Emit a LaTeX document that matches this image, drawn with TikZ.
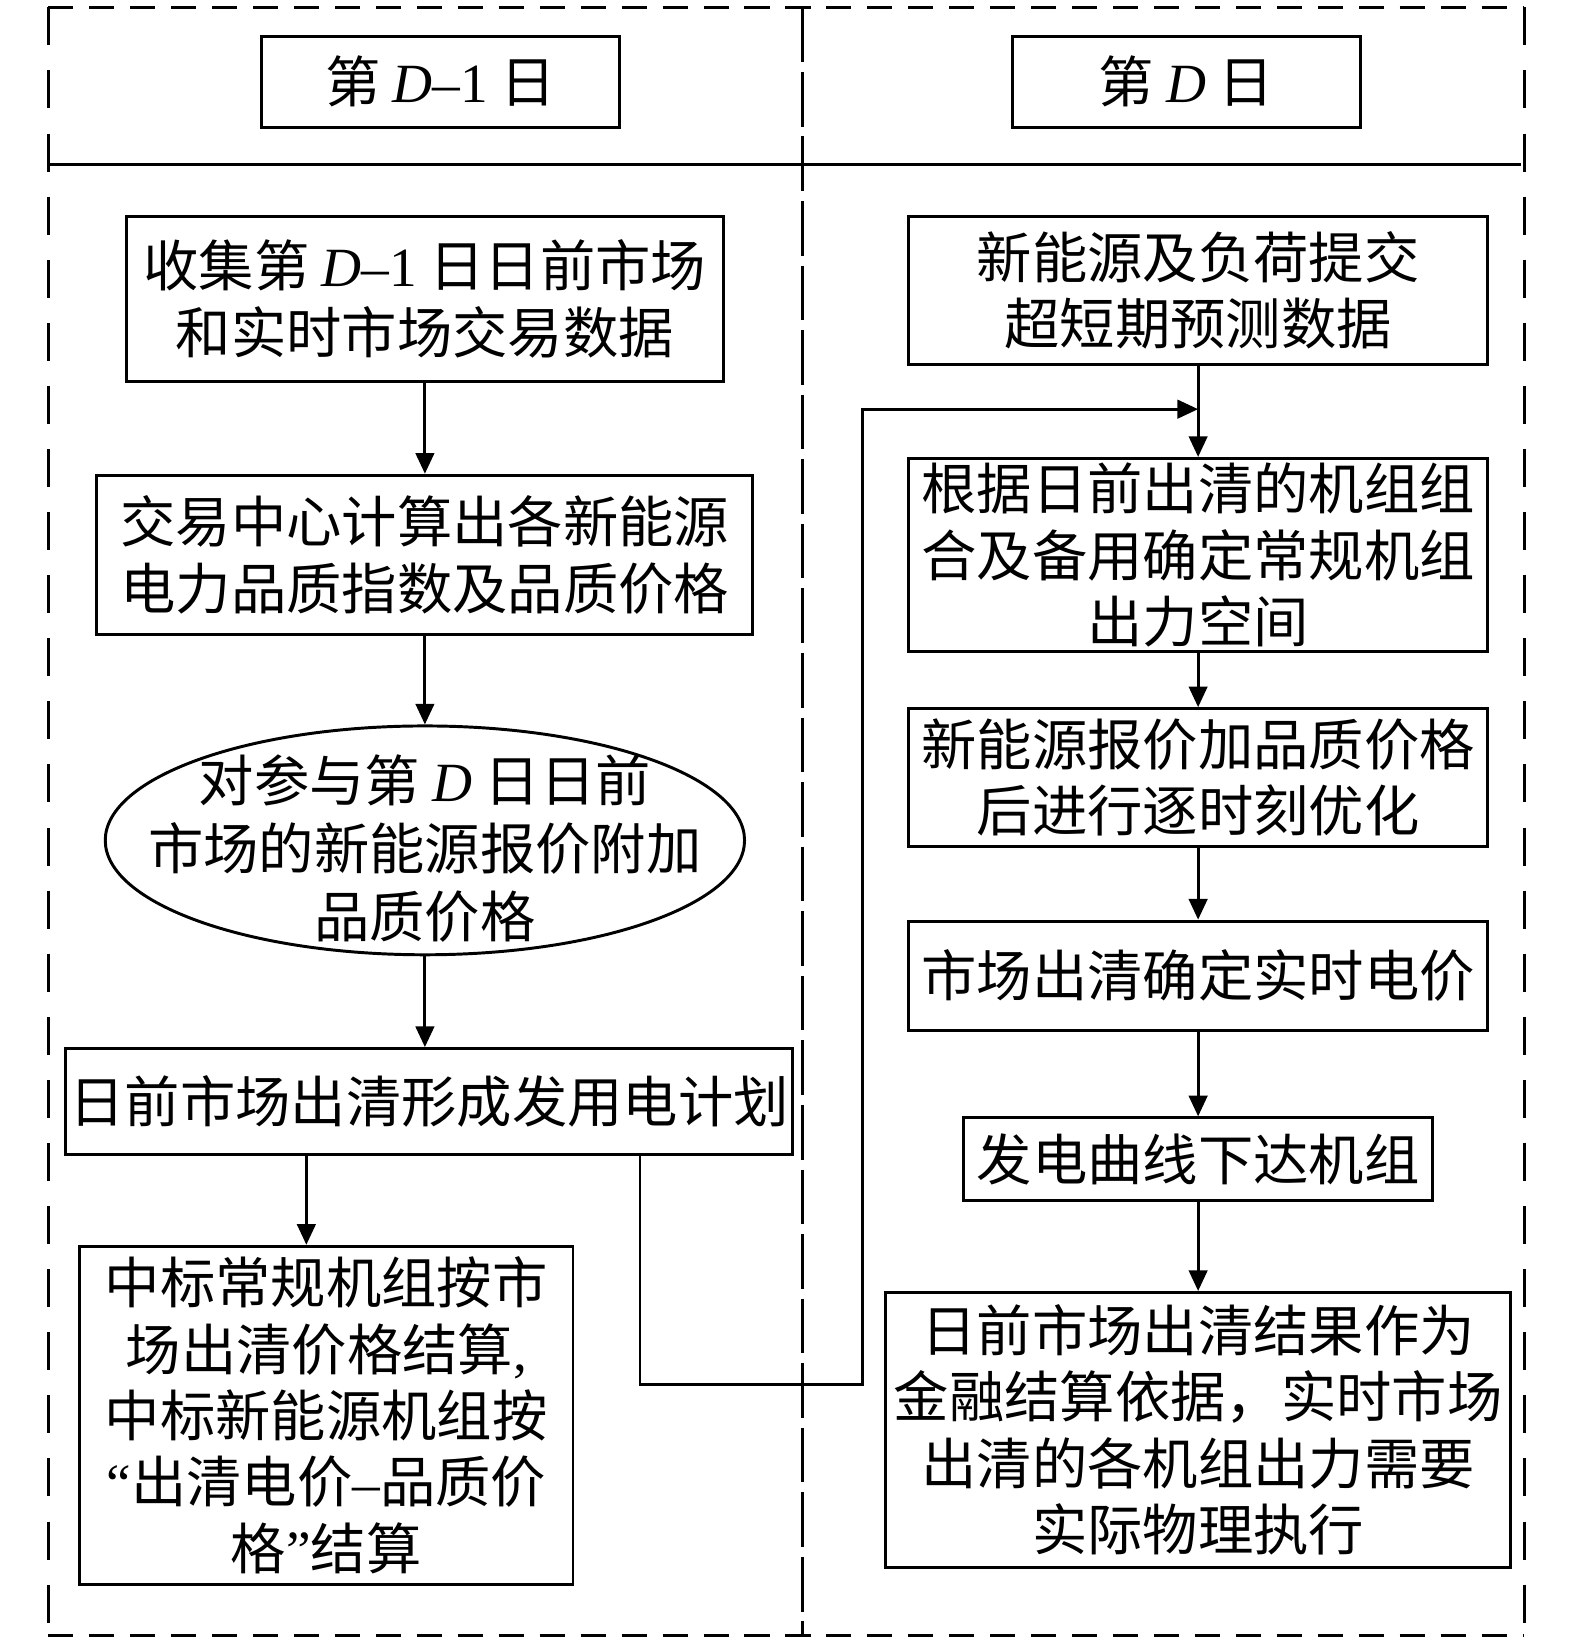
\documentclass[tikz,border=0pt]{standalone}
\usepackage{fontspec}
\setmainfont{Noto Sans CJK SC}
\newfontfamily\latinfont{Liberation Serif}
\usetikzlibrary{arrows.meta}
\usetikzlibrary{shapes.geometric}
\newcommand{\dayD}{{\latinfont\itshape D}}
\newcommand{\lat}[1]{{\latinfont #1}}
\tikzstyle{box} = [draw, line width=0.8pt, align=center, inner sep=0pt, font=\fontsize{15}{18}\selectfont]
\tikzstyle{txt} = [align=center, inner sep=0pt, font=\fontsize{15}{18.5}\selectfont]
\tikzstyle{arr} = [line width=0.8pt, -{Triangle[length=5.6pt,width=5pt]}]
\tikzstyle{frameh} = [line width=0.8pt, dash pattern=on 6.8pt off 4.3pt]
\tikzstyle{framev} = [line width=0.8pt, dash pattern=on 10.3pt off 6.8pt]

\begin{document}
\begin{tikzpicture}[x=0.01cm, y=-0.01cm]
\useasboundingbox (0,0) rectangle (1501,1567);

\coordinate (tl) at (46,7);
\coordinate (tr) at (1453,7);
\coordinate (bl) at (46,1559);
\coordinate (br) at (1453,1559);
\draw[frameh] (tl) -- (tr);
\draw[frameh] (bl) -- (br);
\draw[framev] (tl) -- (bl);
\draw[framev] (tr) -- (br);
\draw[line width=0.8pt] (46,157) -- (1450,157);
\draw[line width=0.8pt, dash pattern=on 14.8pt off 2.7pt] (765,7) -- (765,1559);

\node[box, minimum width=3.41cm, minimum height=0.87cm] (h1) at (420,78) {第 \dayD\lat{–1} 日};
\node[box, minimum width=3.32cm, minimum height=0.87cm] (h2) at (1131,78) {第 \dayD\ 日};

\node[box, minimum width=5.69cm, minimum height=1.57cm] (l1) at (405,285)
  {收集第 \dayD\lat{–1} 日日前市场\\和实时市场交易数据};
\node[box, minimum width=6.25cm, minimum height=1.52cm] (l2) at (405,529)
  {交易中心计算出各新能源\\电力品质指数及品质价格};
\node[draw, ellipse, line width=0.8pt, minimum width=6.09cm, minimum height=2.18cm] (l3) at (405,801) {};
\node[txt] (l3t) at (405,809) {对参与第 \dayD\ 日日前\\市场的新能源报价附加\\品质价格};
\node[box, minimum width=6.92cm, minimum height=1.01cm] (l4) at (409,1050)
  {日前市场出清形成发用电计划};
\node[box, minimum width=4.70cm, minimum height=3.22cm] (l5) at (311,1349)
  {中标常规机组按市\\场出清价格结算\lat{,}\\中标新能源机组按\\\lat{“}出清电价\lat{–}品质价\\格\lat{”}结算};

\node[box, minimum width=5.52cm, minimum height=1.41cm] (r1) at (1142,277)
  {新能源及负荷提交\\超短期预测数据};
\node[box, minimum width=5.52cm, minimum height=1.84cm] (r2) at (1142,529)
  {根据日前出清的机组组\\合及备用确定常规机组\\出力空间};
\node[box, minimum width=5.52cm, minimum height=1.31cm] (r3) at (1142,741)
  {新能源报价加品质价格\\后进行逐时刻优化};
\node[box, minimum width=5.52cm, minimum height=1.04cm] (r4) at (1142,930)
  {市场出清确定实时电价};
\node[box, minimum width=4.47cm, minimum height=0.79cm] (r5) at (1142,1105)
  {发电曲线下达机组};
\node[box, minimum width=5.95cm, minimum height=2.62cm] (r6) at (1142,1363)
  {日前市场出清结果作为\\金融结算依据，实时市场\\出清的各机组出力需要\\实际物理执行};

\draw[arr] (l1) -- (l2);
\draw[arr] (l2) -- (l3);
\draw[arr] (l3.south) -- (l3.south |- l4.north);
\draw[arr] (l4.south -| 292,0) -- (l5.north -| 292,0);

\coordinate (fb1) at (610,1320);
\coordinate (fb2) at (822,1320);
\coordinate (fb3) at (822,390);
\draw[arr] (l4.south -| fb1) -- (fb1) -- (fb2) -- (fb3) -- (r1.south |- fb3);

\draw[arr] (r1) -- (r2);
\draw[arr] (r2) -- (r3);
\draw[arr] (r3) -- (r4);
\draw[arr] (r4) -- (r5);
\draw[arr] (r5) -- (r6);

\end{tikzpicture}
\end{document}
